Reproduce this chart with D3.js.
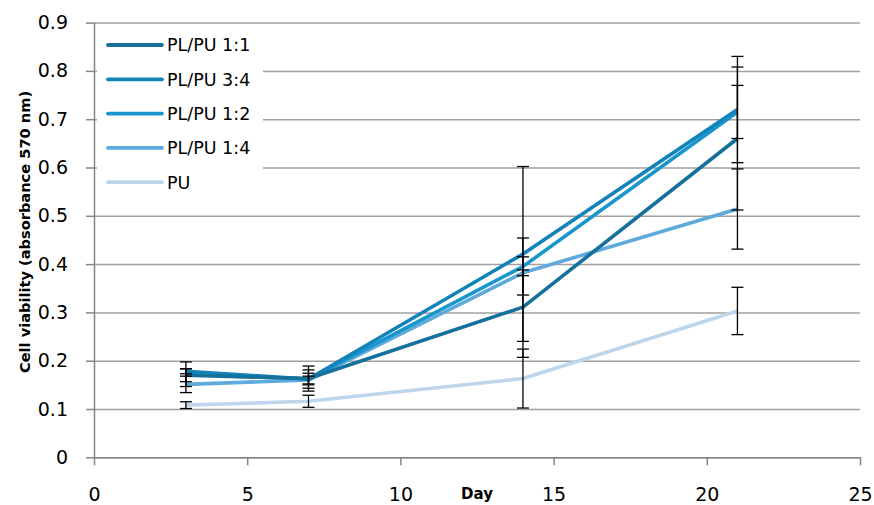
<!DOCTYPE html>
<html>
<head>
<meta charset="utf-8">
<script src="https://cdn.jsdelivr.net/npm/d3@7"></script>
<style>
  body { margin: 0; background: #fff; }
  text { font-family: "DejaVu Sans", sans-serif; fill: #000; }
</style>
</head>
<body>
<script>
// days measured
var days = [3, 7, 14, 21];
// series names, in legend order
var names = ["PL/PU 1:1", "PL/PU 3:4", "PL/PU 1:2", "PL/PU 1:4", "PU"];
// mean absorbance for each series
var pl11 = [0.170, 0.163, 0.311, 0.660];
var pl34 = [0.178, 0.162, 0.421, 0.720];
var pl12 = [0.172, 0.162, 0.395, 0.715];
var pl14 = [0.151, 0.160, 0.382, 0.514];
var pu   = [0.108, 0.116, 0.163, 0.303];
// error bar half widths
var err11 = [0.0135, 0.026, 0.104, 0.148];
var err34 = [0.005, 0.019, 0.181, 0.110];
var err12 = [0.0255, 0.012, 0.059, 0.055];
var err14 = [0.017, 0.008, 0.006, 0.083];
var errPU = [0.007, 0.0125, 0.061, 0.049];
// tick labels
var xTicks = [0, 5, 10, 15, 20, 25];
var yTicks = [0, 0.1, 0.2, 0.3, 0.4, 0.5, 0.6, 0.7, 0.8, 0.9];

var colors = ["#15719b", "#1283b9", "#1996cd", "#5eaadc", "#bdd6eb"];

window.onload = function(){
    var w = 874, h = 505;
    var svg = d3.select("body").append("svg")
        .attr("width", w)
        .attr("height", h);

    var x = d3.scaleLinear().domain([0, 25]).range([94, 860]);
    var y = d3.scaleLinear().domain([0, 0.9]).range([457.3, 22.6]);

    var means = [pl11, pl34, pl12, pl14, pu];
    var errs = [err11, err34, err12, err14, errPU];
    var series = names.map(function(n, i){
        return {
            name: n,
            color: colors[i],
            points: days.map(function(d, j){ return {day: d, v: means[i][j], e: errs[i][j]}; })
        };
    });

    // horizontal gridlines
    svg.append("g")
        .attr("class", "grid")
        .attr("transform", "translate(94,0)")
        .call(d3.axisLeft(y).tickValues(yTicks).tickSize(-766).tickFormat(""))
        .call(function(g){ g.select(".domain").remove(); })
        .selectAll("line")
        .attr("stroke", "#a0a0a0")
        .attr("stroke-width", 1.5);

    // legend box hides the gridlines behind it
    svg.append("rect")
        .attr("x", 97).attr("y", 28)
        .attr("width", 166).attr("height", 172)
        .attr("fill", "#fff");

    // y axis
    var yAxis = svg.append("g")
        .attr("transform", "translate(94,0)")
        .call(d3.axisLeft(y).tickValues(yTicks).tickSizeInner(8).tickSizeOuter(0).tickPadding(18)
            .tickFormat(function(d){ return d === 0 ? "0" : d3.format(".1f")(d); }));
    yAxis.select(".domain").attr("stroke", "#868686").attr("stroke-width", 1.5);
    yAxis.selectAll(".tick line").attr("stroke", "#868686").attr("stroke-width", 1.5);
    yAxis.selectAll("text")
        .style("font-family", "DejaVu Sans")
        .style("font-size", "19px")
        .attr("fill", "#000");

    // x axis
    var xAxis = svg.append("g")
        .attr("transform", "translate(0,457.3)")
        .call(d3.axisBottom(x).tickValues(xTicks).tickSizeInner(8).tickSizeOuter(0).tickPadding(22));
    xAxis.select(".domain").attr("stroke", "#868686").attr("stroke-width", 1.5);
    xAxis.selectAll(".tick line").attr("stroke", "#868686").attr("stroke-width", 1.5);
    xAxis.selectAll("text")
        .style("font-family", "DejaVu Sans")
        .style("font-size", "19px")
        .attr("fill", "#000");

    // axis titles
    svg.append("text")
        .attr("x", 477).attr("y", 499)
        .attr("text-anchor", "middle")
        .style("font-weight", "bold")
        .style("font-size", "15px")
        .text("Day");

    svg.append("text")
        .attr("transform", "translate(30,232) rotate(-90)")
        .attr("text-anchor", "middle")
        .style("font-weight", "bold")
        .style("font-size", "14.6px")
        .text("Cell viability (absorbance 570 nm)");

    // lines
    var line = d3.line()
        .x(function(d){ return x(d.day); })
        .y(function(d){ return y(d.v); });

    svg.selectAll(".series")
        .data(series.slice().reverse())
        .enter()
        .append("path")
        .attr("class", "series")
        .attr("d", function(d){ return line(d.points); })
        .attr("fill", "none")
        .attr("stroke", function(d){ return d.color; })
        .attr("stroke-width", 3.6)
        .attr("stroke-linejoin", "round");

    // error bars
    var bars = svg.selectAll(".errs")
        .data(series)
        .enter()
        .append("g")
        .attr("class", "errs");
    var eb = bars.selectAll("g")
        .data(function(d){ return d.points; })
        .enter()
        .append("g");
    eb.append("line")
        .attr("x1", function(d){ return x(d.day); })
        .attr("x2", function(d){ return x(d.day); })
        .attr("y1", function(d){ return y(d.v + d.e); })
        .attr("y2", function(d){ return y(d.v - d.e); });
    eb.append("line")
        .attr("x1", function(d){ return x(d.day) - 6; })
        .attr("x2", function(d){ return x(d.day) + 6; })
        .attr("y1", function(d){ return y(d.v + d.e); })
        .attr("y2", function(d){ return y(d.v + d.e); });
    eb.append("line")
        .attr("x1", function(d){ return x(d.day) - 6; })
        .attr("x2", function(d){ return x(d.day) + 6; })
        .attr("y1", function(d){ return y(d.v - d.e); })
        .attr("y2", function(d){ return y(d.v - d.e); });
    eb.selectAll("line")
        .attr("stroke", "#000")
        .attr("stroke-width", 1.3);

    // legend
    var legend = svg.selectAll(".legend")
        .data(series)
        .enter()
        .append("g")
        .attr("class", "legend")
        .attr("transform", function(d, i){ return "translate(108," + (45 + i * 34.3) + ")"; });
    legend.append("line")
        .attr("x1", 0).attr("x2", 54)
        .attr("stroke", function(d){ return d.color; })
        .attr("stroke-width", 3.8)
        .attr("stroke-linecap", "round");
    legend.append("text")
        .attr("x", 59)
        .attr("dy", "0.36em")
        .style("font-size", "17.5px")
        .text(function(d){ return d.name; });
};
</script>
</body>
</html>
